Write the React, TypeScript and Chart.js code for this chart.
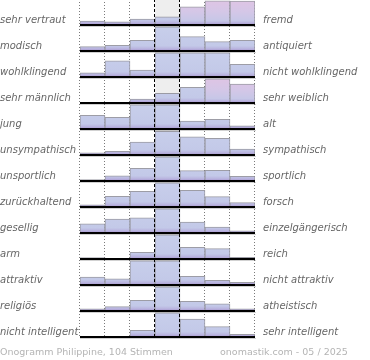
import React, { useEffect, useRef } from "react";
import { Chart, registerables } from "chart.js";

Chart.register(...registerables);

// ---- data ----
const leftLabels = [
  "sehr vertraut", "modisch", "wohlklingend", "sehr männlich", "jung",
  "unsympathisch", "unsportlich", "zurückhaltend", "gesellig", "arm",
  "attraktiv", "religiös", "nicht intelligent",
];
const rightLabels = [
  "fremd", "antiquiert", "nicht wohlklingend", "sehr weiblich", "alt",
  "sympathisch", "sportlich", "forsch", "einzelgängerisch", "reich",
  "nicht attraktiv", "atheistisch", "sehr intelligent",
];
const scaleSteps = ["1", "2", "3", "4", "5", "6", "7"];

// share of each row's height (percent) per answer step
const vertraut = [15, 12, 23, 31, 70, 93, 92];
const modisch = [17, 22, 41, 93, 55, 36, 41];
const wohlklingend = [16, 62, 27, 93, 93, 93, 49];
const maennlich = [0, 0, 15, 37, 60, 93, 73];
const jung = [53, 45, 93, 93, 30, 37, 12];
const unsympathisch = [8, 14, 50, 91, 70, 64, 23];
const unsportlich = [5, 20, 49, 93, 40, 41, 18];
const zurueckhaltend = [8, 41, 60, 93, 64, 40, 17];
const gesellig = [35, 54, 58, 93, 42, 23, 8];
const arm = [5, 0, 26, 93, 45, 40, 6];
const attraktiv = [30, 24, 93, 93, 33, 18, 10];
const religioes = [8, 17, 41, 93, 37, 28, 8];
const intelligent = [0, 0, 26, 93, 69, 40, 10];

const rows = [
  vertraut, modisch, wohlklingend, maennlich, jung, unsympathisch, unsportlich,
  zurueckhaltend, gesellig, arm, attraktiv, religioes, intelligent,
];

const footerLeft = "Onogramm Philippine, 104 Stimmen";
const footerRight = "onomastik.com - 05 / 2025";

// ---- styling ----
const pinkBars: Record<number, number[]> = { 0: [4, 5, 6], 3: [5, 6] };
const labelFont = { family: "'DejaVu Sans', sans-serif", size: 10, style: "italic" as const };

function rowGradient(chart: any, row: number, pink: boolean) {
  const area = chart.chartArea;
  if (!area) return pink ? "#d8c6e6" : "#c5cbe8";
  const y = chart.scales.y;
  const top = y.getPixelForValue(row);
  const bottom = y.getPixelForValue(row + 1);
  const g = chart.ctx.createLinearGradient(0, top, 0, bottom);
  if (pink) {
    g.addColorStop(0, "#e0c4e4");
    g.addColorStop(0.5, "#d4c7e7");
    g.addColorStop(0.84, "#c6c7e7");
    g.addColorStop(0.92, "#b9b2de");
    g.addColorStop(1, "#a896cf");
  } else {
    g.addColorStop(0, "#c8cfeb");
    g.addColorStop(0.8, "#c3c9e8");
    g.addColorStop(0.9, "#bab6e0");
    g.addColorStop(1, "#a896cf");
  }
  return g;
}

const gridPlugin = {
  id: "onoGrid",
  beforeDatasetsDraw(chart: any) {
    const { ctx, chartArea, scales } = chart;
    const xs = scales.x;
    const w = xs.getPixelForValue(1) - xs.getPixelForValue(0);
    const b = (k: number) => xs.getPixelForValue(0) - w / 2 + k * w;
    ctx.save();
    ctx.fillStyle = "#eeeeee";
    ctx.fillRect(b(3), chartArea.top, w, chartArea.bottom - chartArea.top);
    ctx.strokeStyle = "#7a7a7a";
    ctx.lineWidth = 1;
    ctx.setLineDash([1, 2]);
    [0, 1, 2, 5, 6, 7].forEach((k) => {
      const x = Math.round(b(k)) - 0.5;
      ctx.beginPath();
      ctx.moveTo(x, chartArea.top);
      ctx.lineTo(x, chartArea.bottom);
      ctx.stroke();
    });
    ctx.restore();
  },
  afterDatasetsDraw(chart: any) {
    const { ctx, chartArea, scales } = chart;
    const xs = scales.x;
    const ys = scales.y;
    const w = xs.getPixelForValue(1) - xs.getPixelForValue(0);
    const b = (k: number) => xs.getPixelForValue(0) - w / 2 + k * w;
    ctx.save();
    ctx.strokeStyle = "#000";
    ctx.lineWidth = 1;
    ctx.setLineDash([3, 2]);
    [3, 4].forEach((k) => {
      const x = Math.round(b(k)) - 0.5;
      ctx.beginPath();
      ctx.moveTo(x, chartArea.top);
      ctx.lineTo(x, chartArea.bottom);
      ctx.stroke();
    });
    ctx.setLineDash([]);
    rows.forEach((_, i) => {
      const y = Math.round(ys.getPixelForValue(i + 1));
      ctx.strokeStyle = "rgba(0,0,0,0.18)";
      ctx.lineWidth = 1;
      ctx.beginPath();
      ctx.moveTo(chartArea.left, y + 1.5);
      ctx.lineTo(chartArea.right + 1, y + 1.5);
      ctx.stroke();
      ctx.strokeStyle = "#000";
      ctx.lineWidth = 2;
      ctx.beginPath();
      ctx.moveTo(chartArea.left, y);
      ctx.lineTo(chartArea.right, y);
      ctx.stroke();
    });
    ctx.restore();
  },
};

export default function App() {
  const ref = useRef<HTMLCanvasElement>(null);

  useEffect(() => {
    if (!ref.current) return;
    const datasets = rows.map((vals, i) => ({
      label: `${leftLabels[i]} – ${rightLabels[i]}`,
      data: vals.map((v) => (v > 0 ? [i + 1, i + 1 - v / 100] : null)),
      grouped: false,
      barPercentage: 1,
      categoryPercentage: 1,
      borderSkipped: false,
      borderWidth: { top: 1, left: 1, right: 1, bottom: 0 },
      borderColor: "rgba(140,140,150,0.85)",
      backgroundColor: (c: any) =>
        rowGradient(c.chart, i, (pinkBars[i] || []).includes(c.dataIndex)),
    }));

    const chart = new Chart(ref.current, {
      type: "bar",
      data: { labels: scaleSteps, datasets: datasets as any },
      plugins: [gridPlugin],
      options: {
        animation: false,
        responsive: false,
        layout: { padding: { top: 0, bottom: 23, left: 0, right: 0 } },
        plugins: { legend: { display: false }, tooltip: { enabled: false }, title: { display: false } },
        scales: {
          x: { type: "category", display: false, offset: true },
          y: {
            type: "linear",
            position: "left",
            reverse: true,
            min: 0,
            max: rows.length,
            afterBuildTicks: (s: any) => {
              s.ticks = leftLabels.map((_, i) => ({ value: i + 0.82 }));
            },
            afterFit: (s: any) => {
              s.width = 80;
              s.paddingTop = 0;
              s.paddingBottom = 0;
            },
            ticks: {
              autoSkip: false,
              crossAlign: "far",
              padding: 0,
              color: "#666",
              font: labelFont,
              callback: (_v: any, idx: number) => leftLabels[idx],
            },
            grid: { display: false, drawTicks: false },
            border: { display: false },
          },
          y2: {
            type: "linear",
            position: "right",
            reverse: true,
            min: 0,
            max: rows.length,
            afterBuildTicks: (s: any) => {
              s.ticks = rightLabels.map((_, i) => ({ value: i + 0.82 }));
            },
            afterFit: (s: any) => {
              s.width = 115;
              s.paddingTop = 0;
              s.paddingBottom = 0;
            },
            ticks: {
              autoSkip: false,
              padding: 8,
              color: "#666",
              font: labelFont,
              callback: (_v: any, idx: number) => rightLabels[idx],
            },
            grid: { display: false, drawTicks: false },
            border: { display: false },
          },
        },
      } as any,
    });
    return () => chart.destroy();
  }, []);

  const footerStyle: React.CSSProperties = {
    position: "absolute",
    top: 346,
    fontFamily: "'DejaVu Sans', sans-serif",
    fontSize: "9.5px",
    lineHeight: "11px",
    color: "#b4b4b4",
    whiteSpace: "nowrap",
  };

  return (
    <div style={{ position: "absolute", left: 0, top: 0, width: 370, height: 360, background: "#fff" }}>
      <canvas
        ref={ref}
        width={370}
        height={361}
        style={{ position: "absolute", left: 0, top: -1, width: 370, height: 361 }}
      />
      <span style={{ ...footerStyle, left: 0 }}>{footerLeft}</span>
      <span style={{ ...footerStyle, left: 220 }}>{footerRight}</span>
    </div>
  );
}
